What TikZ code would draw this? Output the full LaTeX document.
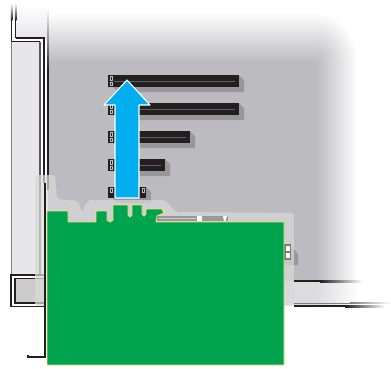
\documentclass[tikz,border=0pt]{standalone}
\usepackage{tikz}
\usetikzlibrary{arrows.meta, calc}
\definecolor{panelgray}{HTML}{BCBCC0}
\definecolor{bandgray}{HTML}{DCDCDF}
\definecolor{sidegray}{HTML}{E7E7EA}
\definecolor{slotblack}{HTML}{231F20}
\definecolor{slotshadow}{HTML}{98989C}
\definecolor{cardgreen}{HTML}{00A44F}
\definecolor{cardedge}{HTML}{F6DC78}
\definecolor{arrowblue}{HTML}{00AEEF}
\tikzset{
  frameline/.style={draw=slotblack, line width=1.5pt},
  slotbody/.style={fill=slotblack},
  slotshade/.style={fill=slotshadow},
  slotrib/.style={draw=gray!75!black, line width=1pt},
  slotkey/.style={draw=gray!50, line width=0.6pt, fill=slotblack},
}
\begin{document}
\begin{tikzpicture}[x=1pt, y=-1pt]
\useasboundingbox (0,0) rectangle (391,368);
% chassis wall
\fill[panelgray] (48,62) rectangle (316,281);
\shade[top color=white, bottom color=panelgray] (48,12) rectangle (316,62);
\shade[left color=panelgray, right color=white] (316,62) rectangle (358,281);
\begin{scope}
\clip (316,12) rectangle (358,62);
\shade[inner color=panelgray, outer color=white] (316,62) ellipse [x radius=42, y radius=50];
\end{scope}
\fill[bandgray] (48,281) rectangle (316,305);
\shade[left color=bandgray, right color=white] (316,281) rectangle (360,305);
% side wall
\shade[top color=white, bottom color=sidegray] (16,4) rectangle (47,38);
\fill[sidegray] (12,42) rectangle (40,275);
\shade[top color=white, bottom color=slotblack] (10.8,3) rectangle (12.3,20);
\fill[slotblack] (10.8,20) rectangle (12.3,42);
\shade[top color=white, bottom color=slotblack] (14.8,3) rectangle (16.3,20);
\fill[slotblack] (14.8,20) rectangle (16.3,38);
\draw[frameline] (11,41.5) -- (40,41.5);
\draw[frameline] (15.5,38) -- (44,38) -- (44,183);
\draw[draw=gray, line width=1.2pt] (11.5,42) -- (11.5,275);
\draw[draw=gray!70!black, line width=1.2pt] (40,41.5) -- (40,275);
\shade[top color=white, bottom color=slotblack] (47,8) rectangle (48.5,70);
\fill[slotblack] (47,70) rectangle (48.5,190);
% base frame
\fill[white] (11,275) rectangle (45,307);
\draw[frameline] (45,275) -- (11,275) -- (11,306.5) -- (45,306.5);
\draw[frameline, fill=gray!40] (45,278.5) -- (15,278.5) -- (15,303) -- (45,303);
\fill[slotblack] (294,280) rectangle (320,282);
\shade[left color=slotblack, right color=white] (320,280) rectangle (362,282);
\fill[gray] (294,302.5) rectangle (350,303.5);
\shade[left color=gray, right color=white] (350,302.5) rectangle (391,303.5);
\fill[slotblack] (294,305) rectangle (345,307);
\shade[left color=slotblack, right color=white] (345,305) rectangle (385,307);
% slot shadows
\fill[slotshade] (113,87) -- (239,87) -- (239,75) -- (244,80) -- (244,92) -- (118,92) -- cycle;
\fill[slotshade] (113,115) -- (239,115) -- (239,103) -- (244,108) -- (244,120) -- (118,120) -- cycle;
\fill[slotshade] (113,143) -- (190,143) -- (190,131) -- (195,136) -- (195,148) -- (118,148) -- cycle;
\fill[slotshade] (113,171) -- (165,171) -- (165,159) -- (170,164) -- (170,176) -- (118,176) -- cycle;
\fill[slotshade] (113,198) -- (146,198) -- (146,187) -- (151,192) -- (151,203) -- (118,203) -- cycle;
% slots
\fill[slotbody] (108,75) rectangle (239,87);
\draw[slotrib] (114,81) -- (235,81);
\fill[slotbody] (108,103) rectangle (239,115);
\draw[slotrib] (114,109) -- (235,109);
\fill[slotbody] (108,131) rectangle (190,143);
\draw[slotrib] (114,137) -- (186,137);
\fill[slotbody] (108,159) rectangle (165,171);
\draw[slotrib] (114,165) -- (161,165);
\fill[slotbody] (108,187) rectangle (146,198);
\draw[slotkey] (110,76.5) rectangle (112,80);
\draw[slotkey] (110,82) rectangle (112,85.5);
\draw[slotkey] (110,104.5) rectangle (112,108);
\draw[slotkey] (110,110) rectangle (112,113.5);
\draw[slotkey] (110,132.5) rectangle (112,136);
\draw[slotkey] (110,138) rectangle (112,141.5);
\draw[slotkey] (110,160.5) rectangle (112,164);
\draw[slotkey] (110,166) rectangle (112,169.5);
\draw[slotkey] (110,188.5) rectangle (112,192);
\draw[slotkey] (142,188.5) rectangle (144,192);
% rear connector behind the card
\fill[slotshade] (284,249) -- (294,249) -- (298,254) -- (298,265) -- (284,265) -- cycle;
% see-through outline of the bracket
\fill[gray!30, opacity=0.72, rounded corners=3pt] (35,306) -- (35,175) -- (55,175) -- (57,199) -- (78,201) -- (82,212) -- (88,200) -- (165,200) -- (176,212) -- (294,213) -- (294,306) -- cycle;
\draw[frameline] (45,183) -- (45,357) -- (28,357) -- (28,355);
% rear connector
\fill[slotblack!60] (284,244) rectangle (291,260);
\fill[white] (286,246) rectangle (290,251);
\fill[white] (286,253) rectangle (290,258);
% arrow
\draw[fill=arrowblue, draw=white, line width=1.1pt, line join=round] (127,80) -- (150,105) -- (139,105) -- (139,198) -- (115,198) -- (115,105) -- (104,105) -- cycle;
% card
\draw[fill=cardgreen, draw=cardedge, line width=0.9pt] (47,211) -- (68,211) -- (68,222) -- (96,222) -- (96,211) -- (107,211) -- (107,220) -- (110,222) -- (113,220) -- (113,205) -- (128,205) -- (128,215) -- (130,217) -- (132,215) -- (132,205) -- (142,205) -- (142,214) -- (144,216) -- (146,214) -- (146,209) -- (162,209) -- (164,213) -- (157,216) -- (156,222) -- (284,222) -- (284,365) -- (47,365) -- cycle;
% card edge connector
\fill[gray!80] (157,216) rectangle (228,221);
\draw[draw=gray!40, line width=1pt] (159,218.5) -- (196,218.5);
\fill[white] (197,216) rectangle (202,221);
\fill[white] (223,216) -- (227,216) -- (225.5,221) -- (224,221) -- cycle;
\end{tikzpicture}
\end{document}
